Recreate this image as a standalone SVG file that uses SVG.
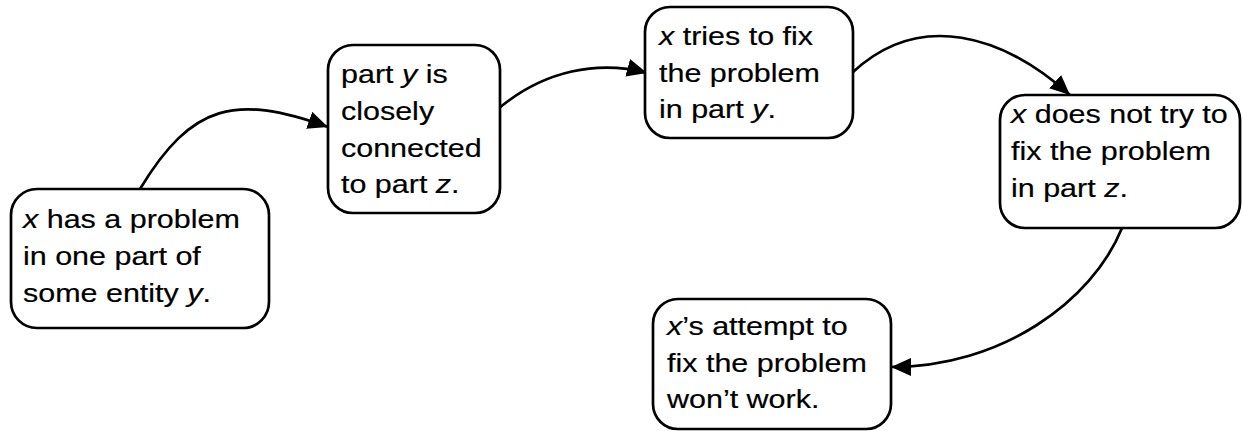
<svg xmlns="http://www.w3.org/2000/svg" width="1243" height="431" viewBox="0 0 1243 431">
  <style>
    .box { fill: #ffffff; stroke: #000000; stroke-width: 2.7; }
    .lbl { font-family: "Liberation Sans", Arial, sans-serif; font-size: 26.5px; fill: #000000; stroke: #000000; stroke-width: 0.2; }
    .v { font-style: italic; }
    .edge { fill: none; stroke: #000000; stroke-width: 2.7; marker-end: url(#arrow); }
  </style>
  <defs>
    <marker id="arrow" markerUnits="userSpaceOnUse" markerWidth="21" markerHeight="19" refX="20" refY="9" orient="auto">
      <path d="M0,0 L20,9 L0,18 Z" fill="#000000"/>
    </marker>
  </defs>

  <rect width="1243" height="431" fill="#ffffff"/>

  <g id="connectors">
    <path class="edge" d="M140,189 C192,103 236,94 328,127"/>
    <path class="edge" d="M498,109 C544,70 599,60 647,73"/>
    <path class="edge" d="M853,72 C920,10 1003,35 1070,95"/>
    <path class="edge" d="M1122,228 C1092,302 1001,367 891,367"/>
  </g>

  <g id="node-problem">
    <rect class="box" x="11" y="189" width="258" height="139" rx="26"/>
    <text class="lbl" transform="translate(23,0) scale(1.15,1)">
      <tspan x="0" y="228"><tspan class="v">x</tspan> has a problem</tspan>
      <tspan x="0" y="265">in one part of</tspan>
      <tspan x="0" y="302">some entity <tspan class="v">y</tspan>.</tspan>
    </text>
  </g>

  <g id="node-connected">
    <rect class="box" x="328" y="45" width="172" height="168" rx="25"/>
    <text class="lbl" transform="translate(341,0) scale(1.15,1)">
      <tspan x="0" y="83">part <tspan class="v">y</tspan> is</tspan>
      <tspan x="0" y="120">closely</tspan>
      <tspan x="0" y="157">connected</tspan>
      <tspan x="0" y="193">to part <tspan class="v">z</tspan>.</tspan>
    </text>
  </g>

  <g id="node-tries">
    <rect class="box" x="645" y="7" width="208" height="131" rx="25"/>
    <text class="lbl" transform="translate(659,0) scale(1.15,1)">
      <tspan x="0" y="45"><tspan class="v">x</tspan> tries to fix</tspan>
      <tspan x="0" y="82">the problem</tspan>
      <tspan x="0" y="118">in part <tspan class="v">y</tspan>.</tspan>
    </text>
  </g>

  <g id="node-not-try">
    <rect class="box" x="1000" y="95" width="240" height="133" rx="25"/>
    <text class="lbl" transform="translate(1011,0) scale(1.15,1)">
      <tspan x="0" y="123"><tspan class="v">x</tspan> does not try to</tspan>
      <tspan x="0" y="160">fix the problem</tspan>
      <tspan x="0" y="197">in part <tspan class="v">z</tspan>.</tspan>
    </text>
  </g>

  <g id="node-attempt">
    <rect class="box" x="653" y="299" width="238" height="130" rx="25"/>
    <text class="lbl" transform="translate(667,0) scale(1.15,1)">
      <tspan x="0" y="335"><tspan class="v">x</tspan>’s attempt to</tspan>
      <tspan x="0" y="372">fix the problem</tspan>
      <tspan x="0" y="408">won’t work.</tspan>
    </text>
  </g>
</svg>
